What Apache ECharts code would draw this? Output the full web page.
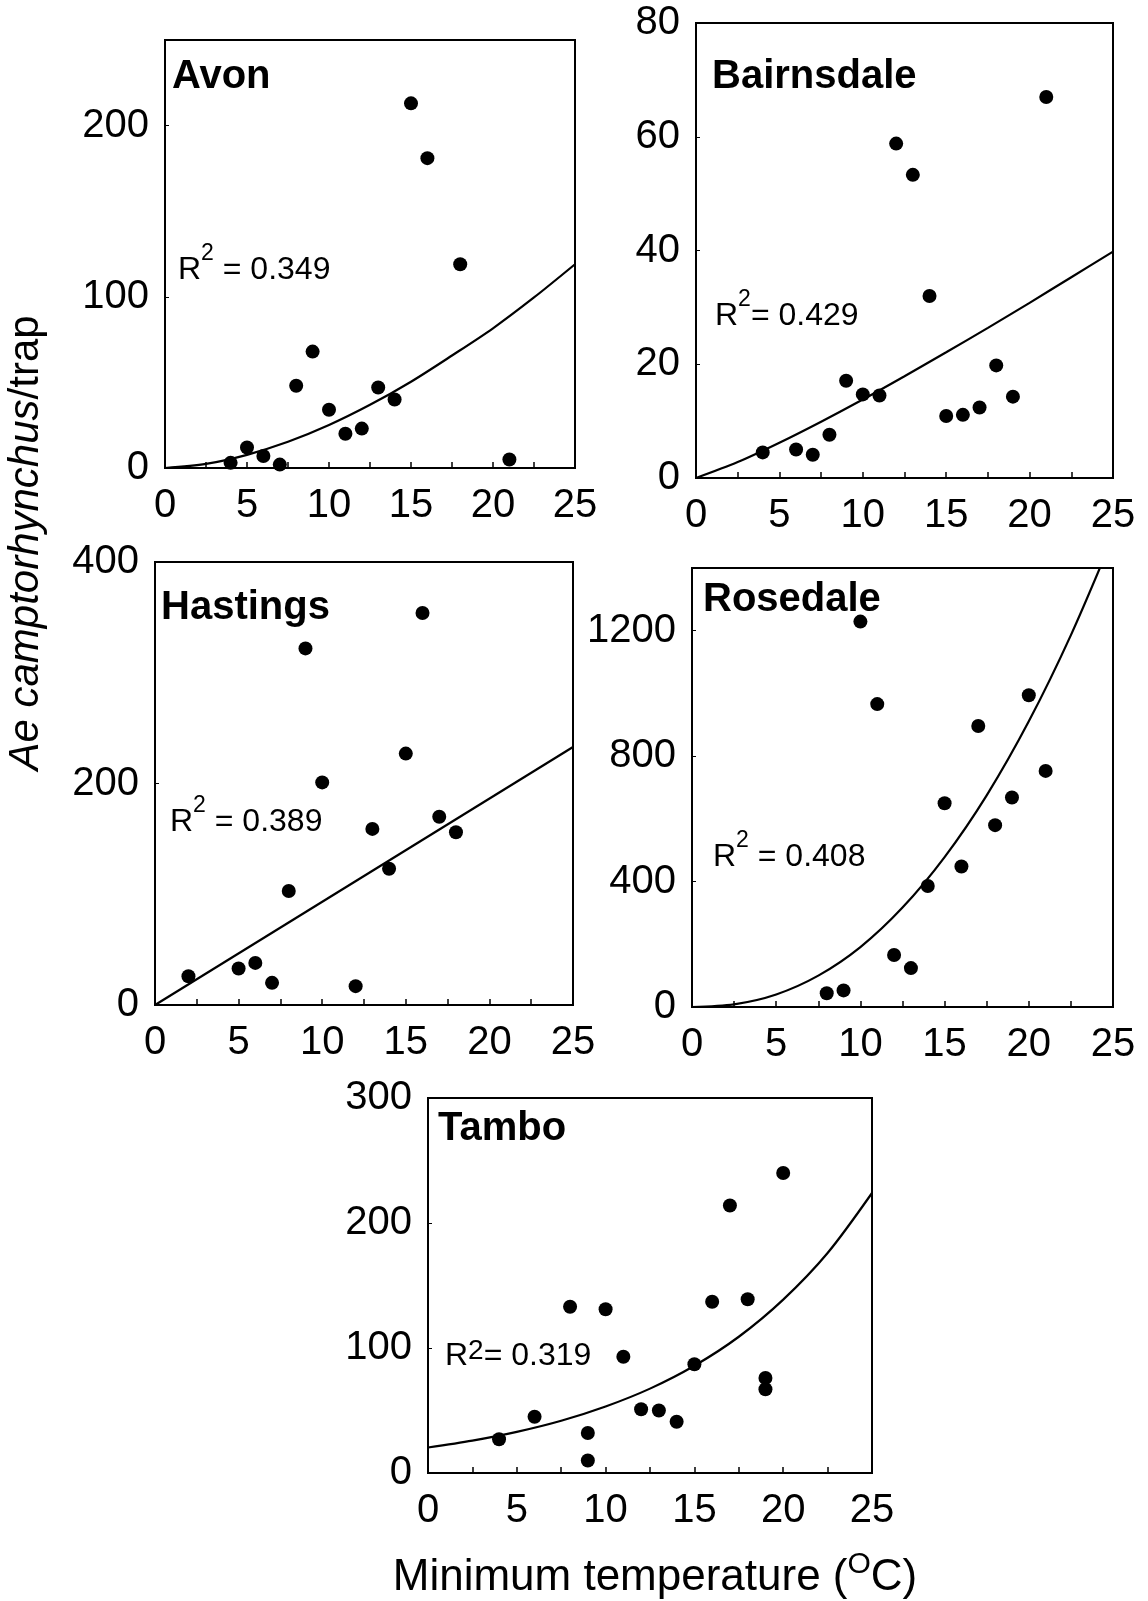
<!DOCTYPE html>
<html>
<head>
<meta charset="utf-8">
<script src="https://cdn.jsdelivr.net/npm/echarts@6/dist/echarts.min.js"></script>
<style>
html, body { margin: 0; padding: 0; background: #fff; }
#main { width: 1148px; height: 1601px; }
</style>
</head>
<body>
<div id="main"></div>
<script>
const myChart = echarts.init(document.getElementById('main'));
const font = 'Liberation Sans, Arial, Helvetica, sans-serif';

const fitTemps = [0, 2.5, 5, 7.5, 10, 12.5, 15, 17.5, 20, 22.5, 25];
const xTickLabels = [0, 5, 10, 15, 20, 25];

// Avon
const avonTemps = [4, 5, 6, 7, 8, 9, 10, 11, 12, 13, 14, 15, 16, 18, 21];
const avonCounts = [3, 12, 7, 2, 48, 68, 34, 20, 23, 47, 40, 213, 181, 119, 5];
const avonFit = [0, 2.4, 7.7, 15.3, 25.1, 36.9, 50.4, 65.7, 81.6, 99.6, 119];
const avonYTicks = [0, 100, 200];

// Bairnsdale
const bairnsdaleTemps = [4, 6, 7, 8, 9, 10, 11, 12, 13, 14, 15, 16, 17, 18, 19, 21];
const bairnsdaleCounts = [4.5, 5, 4.1, 7.6, 17.1, 14.7, 14.5, 58.8, 53.3, 32, 10.9, 11.1, 12.4, 19.8, 14.3, 67];
const bairnsdaleFit = [0, 2.8, 6.2, 9.9, 13.8, 17.9, 22.1, 26.4, 30.8, 35.3, 39.8];
const bairnsdaleYTicks = [0, 20, 40, 60, 80];

// Hastings (straight line fit)
const hastingsTemps = [2, 5, 6, 7, 8, 9, 10, 12, 13, 14, 15, 16, 17, 18];
const hastingsCounts = [26, 33, 38, 20, 103, 322, 201, 17, 159, 123, 227, 354, 170, 156];
const hastingsFitTemps = [0, 25];
const hastingsFit = [0, 233];
const hastingsYTicks = [0, 200, 400];

// Rosedale
const rosedaleTemps = [8, 9, 10, 11, 12, 13, 14, 15, 16, 17, 18, 19, 20, 21];
const rosedaleCounts = [44, 53, 1229, 966, 166, 124, 386, 650, 448, 896, 580, 668, 994, 753];
const rosedaleFit = [0, 8.5, 40, 100, 191, 317, 478, 675, 911, 1186, 1500];
const rosedaleYTicks = [0, 400, 800, 1200];

// Tambo
const tamboTemps = [4, 6, 8, 9, 9, 10, 11, 12, 13, 14, 15, 16, 17, 18, 19, 19, 20];
const tamboCounts = [27, 45, 133, 32, 10, 131, 93, 51, 50, 41, 87, 137, 214, 139, 76, 67, 240];
const tamboFit = [20.4, 25.9, 32.9, 41.8, 53.2, 67.5, 85.8, 109, 138.7, 176, 224];
const tamboYTicks = [0, 100, 200, 300];

const panels = [
    { name: 'Avon', r2: '0.349', sep: ' = ', xs: avonTemps, ys: avonCounts, fx: fitTemps, fy: avonFit,
      yMax: 250, yTicks: avonYTicks, box: [165, 40, 410, 428], title: [172, 77], r2At: [178, 270] },
    { name: 'Bairnsdale', r2: '0.429', sep: '= ', xs: bairnsdaleTemps, ys: bairnsdaleCounts, fx: fitTemps, fy: bairnsdaleFit,
      yMax: 80, yTicks: bairnsdaleYTicks, box: [696, 23, 417, 455], title: [712, 77], r2At: [715, 316] },
    { name: 'Hastings', r2: '0.389', sep: ' = ', xs: hastingsTemps, ys: hastingsCounts, fx: hastingsFitTemps, fy: hastingsFit,
      yMax: 400, yTicks: hastingsYTicks, box: [155, 562, 418, 443], title: [161, 608], r2At: [170, 822] },
    { name: 'Rosedale', r2: '0.408', sep: ' = ', xs: rosedaleTemps, ys: rosedaleCounts, fx: fitTemps, fy: rosedaleFit,
      yMax: 1400, yTicks: rosedaleYTicks, box: [692, 568, 421, 439], title: [703, 600], r2At: [713, 857] },
    { name: 'Tambo', r2: '0.319', sep: '= ', xs: tamboTemps, ys: tamboCounts, fx: fitTemps, fy: tamboFit,
      yMax: 300, yTicks: tamboYTicks, box: [428, 1098, 444, 375], title: [438, 1129], r2At: [445, 1356], flatSup: true }
];

const grid = [], xAxis = [], yAxis = [], series = [], graphic = [];

panels.forEach(function (p, i) {
    grid.push({
        left: p.box[0], top: p.box[1], width: p.box[2], height: p.box[3],
        show: true, borderColor: '#000', borderWidth: 2, backgroundColor: 'transparent'
    });
    xAxis.push({
        gridIndex: i, type: 'value', min: 0, max: 25, interval: 2.5,
        axisLine: { show: true, lineStyle: { color: '#000', width: 2 } },
        axisTick: { show: true, inside: true, length: 6, lineStyle: { color: '#000', width: 1.5 } },
        splitLine: { show: false },
        axisLabel: {
            margin: 18, fontSize: 40, color: '#000', fontFamily: font,
            formatter: function (v) { return xTickLabels.indexOf(v) >= 0 ? String(v) : ''; }
        }
    });
    yAxis.push({
        gridIndex: i, type: 'value', min: 0, max: p.yMax, interval: p.yTicks[1] - p.yTicks[0],
        axisLine: { show: true, lineStyle: { color: '#000', width: 2 } },
        axisTick: { show: true, inside: true, length: 4, lineStyle: { color: '#000', width: 1 } },
        splitLine: { show: false },
        axisLabel: {
            margin: 16, fontSize: 40, color: '#000', fontFamily: font,
            formatter: function (v) { return p.yTicks.indexOf(v) >= 0 ? String(v) : ''; }
        }
    });
    series.push({
        type: 'scatter', xAxisIndex: i, yAxisIndex: i,
        data: p.xs.map(function (x, k) { return [x, p.ys[k]]; }),
        symbol: 'circle', symbolSize: 14,
        itemStyle: { color: '#000', opacity: 1 }, z: 3
    });
    series.push({
        type: 'line', xAxisIndex: i, yAxisIndex: i,
        data: p.fx.map(function (x, k) { return [x, p.fy[k]]; }),
        smooth: 0.3, showSymbol: false, clip: true,
        lineStyle: { color: '#000', width: 2.2 }, z: 2
    });
    graphic.push({
        type: 'text', x: p.title[0], y: p.title[1],
        style: {
            text: p.name, fontSize: 40, fontWeight: 'bold', fontFamily: font, fill: '#000',
            align: 'left', verticalAlign: 'middle', textAlign: 'left', textVerticalAlign: 'middle'
        }
    });
    graphic.push({
        type: 'text', x: p.r2At[0], y: p.r2At[1],
        style: {
            text: '{m|R}{s|2}{m|' + p.sep + p.r2 + '}',
            fontSize: 32, fontFamily: font, fill: '#000',
            align: 'left', verticalAlign: 'middle', textAlign: 'left', textVerticalAlign: 'middle',
            rich: {
                m: { fontSize: 32, fontFamily: font, fill: '#000' },
                s: p.flatSup
                    ? { fontSize: 28, fontFamily: font, fill: '#000', padding: [0, 0, 10, 0] }
                    : { fontSize: 23, fontFamily: font, fill: '#000', padding: [0, 0, 32, 0] }
            }
        }
    });
});

// shared axis titles
graphic.push({
    type: 'text', x: 26, y: 543, rotation: Math.PI / 2,
    style: {
        text: '{i|Ae camptorhynchus}{n|/trap}',
        fontSize: 42, fontFamily: font, fill: '#000',
        align: 'center', verticalAlign: 'middle', textAlign: 'center', textVerticalAlign: 'middle',
        rich: {
            i: { fontSize: 42, fontStyle: 'italic', fontFamily: font, fill: '#000' },
            n: { fontSize: 42, fontFamily: font, fill: '#000' }
        }
    }
});
graphic.push({
    type: 'text', x: 655, y: 1578,
    style: {
        text: '{n|Minimum temperature (}{s|O}{n|C)}',
        fontSize: 44, fontFamily: font, fill: '#000',
        align: 'center', verticalAlign: 'middle', textAlign: 'center', textVerticalAlign: 'middle',
        rich: {
            n: { fontSize: 44, fontFamily: font, fill: '#000' },
            s: { fontSize: 30, fontFamily: font, fill: '#000', padding: [0, 0, 26, 0] }
        }
    }
});

const option = {
    backgroundColor: '#fff',
    animation: false,
    grid: grid,
    xAxis: xAxis,
    yAxis: yAxis,
    series: series,
    graphic: graphic
};

myChart.setOption(option);
</script>
</body>
</html>
